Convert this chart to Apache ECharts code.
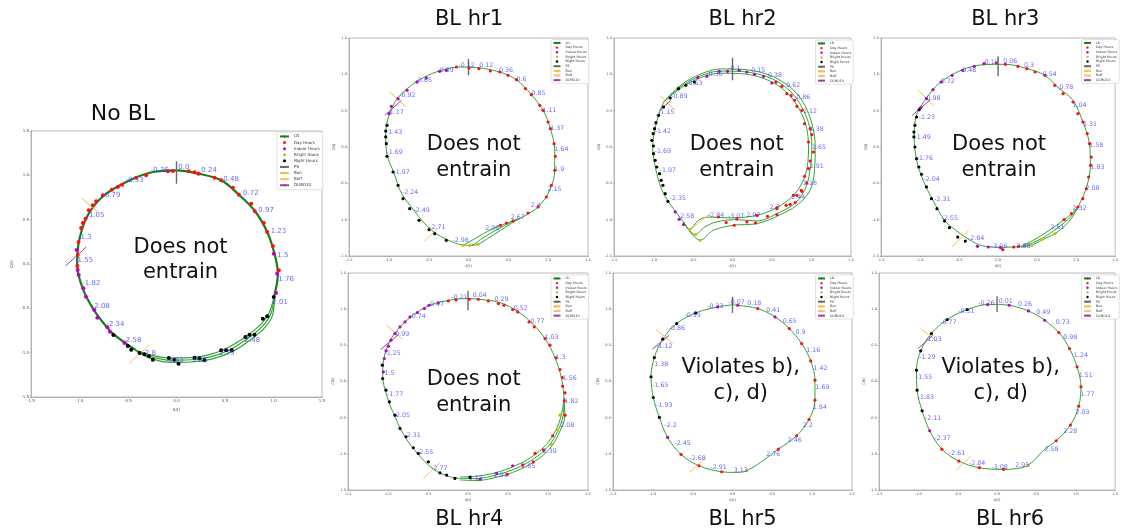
<!DOCTYPE html>
<html><head><meta charset="utf-8">
<script src="https://cdn.jsdelivr.net/npm/echarts@6/dist/echarts.min.js"></script>
<style>html,body{margin:0;padding:0;background:#fff}#c{width:1121px;height:529px}</style>
</head><body><div id="c"></div>
<script>
// ---------------- texts ----------------
const titleTexts = ['No BL','BL hr1','BL hr2','BL hr3','BL hr4','BL hr5','BL hr6'];
const verdictTexts = ['Does not\nentrain','Does not\nentrain','Does not\nentrain','Does not\nentrain','Does not\nentrain','Violates b),\nc), d)','Violates b),\nc), d)'];
const legendNames = ['LD','Day Hours','Indoor Hours','Bright Hours','Night Hours','PS','Bon','Boff','DLMO10'];
const axisTicks = [-1.5,-1.0,-0.5,0.0,0.5,1.0,1.5];

// ---------------- No BL ----------------
const noBL_ldMain = [[-0.42,-0.97],[-0.519,-0.898],[-0.65,-0.79],[-0.708,-0.726],[-0.856,-0.511],[-0.966,-0.278],[-1.024,-0.015],[-1.007,0.248],[-0.924,0.53],[-0.766,0.756],[-0.519,0.925],[-0.244,1.038],[0,1.056],[0.227,1.019],[0.46,0.944],[0.643,0.782],[0.808,0.598],[0.935,0.361],[1.01,0.117],[1.045,-0.109],[1.01,-0.35]];
const noBL_ldA = [[1.01,-0.35],[0.95,-0.56],[0.86,-0.69],[0.74,-0.8],[0.55,-0.93],[0.35,-1.02],[0.15,-1.055],[-0.05,-1.06],[-0.25,-1.03],[-0.42,-0.97]];
const noBL_ldB = [[1.01,-0.35],[0.97,-0.57],[0.88,-0.71],[0.76,-0.82],[0.57,-0.955],[0.36,-1.045],[0.15,-1.08],[-0.05,-1.085],[-0.25,-1.05],[-0.42,-0.975]];
const noBL_ldC = [[1.01,-0.35],[0.99,-0.58],[0.9,-0.73],[0.78,-0.84],[0.59,-0.98],[0.37,-1.07],[0.15,-1.105],[-0.05,-1.11],[-0.25,-1.07],[-0.42,-0.98]];
const noBL_day = [[-0.038,1.049],[0.127,1.045],[0.186,1.034],[0.227,1.019],[0.392,0.974],[0.46,0.944],[0.581,0.861],[0.643,0.782],[0.77,0.68],[0.808,0.594],[0.9,0.462],[0.935,0.361],[0.993,0.203],[1.055,-0.071],[-1.01,0.248],[-0.983,0.406],[-0.966,0.462],[-0.938,0.511],[-0.904,0.605],[-0.863,0.662],[-0.828,0.707],[-0.759,0.774],[-0.667,0.838],[-0.605,0.868],[-0.56,0.895],[-0.416,0.974],[-0.313,1.0],[-0.089,1.045],[-1.019,0.101],[-1.022,-0.019]];
const noBL_indoor = [[1.003,0.117],[1.038,-0.109],[1.027,-0.327],[-1.029,0.158],[-1.019,-0.068],[-1.008,-0.124],[-0.96,-0.274],[-0.933,-0.368],[-0.847,-0.519],[-0.816,-0.605],[-0.713,-0.714],[-0.686,-0.763],[-0.536,-0.891]];
const noBL_bright = [];
const noBL_night = [[-0.651,-0.8],[-0.502,-0.925],[-0.467,-0.966],[-0.381,-1.004],[-0.33,-1.019],[-0.285,-1.041],[-0.244,-1.079],[-0.079,-1.06],[-0.021,-1.079],[0.021,-1.124],[0.186,-1.056],[0.237,-1.064],[0.289,-1.086],[0.46,-0.974],[0.512,-0.974],[0.57,-0.974],[0.711,-0.823],[0.753,-0.797],[0.804,-0.797],[0.89,-0.617],[0.935,-0.59],[1.003,-0.372]];
const noBL_ps = [[0,0.906],[0,1.16]];
const noBL_bon = [[-0.976,0.741],[-0.818,0.594]];
const noBL_boff = [[-0.491,-1.124],[-0.285,-0.917]];
const noBL_dlmo = [[-1.144,-0.023],[-0.931,0.192]];
const noBL_labels = [[0.024,1.056,'0.0'],[0.261,1.026,'0.24'],[0.488,0.921,'0.48'],[0.691,0.763,'0.72'],[0.849,0.568,'0.97'],[0.976,0.331,'1.23'],[1.045,0.071,'1.5'],[1.055,-0.203,'1.76'],[0.993,-0.459,'2.01'],[0.708,-0.891,'2.48'],[0.443,-1.041,'2.75'],[0.158,-1.117,'3.03'],[-0.107,-1.117,'-3.03'],[-0.347,-1.041,'-2.8'],[-0.543,-0.891,'-2.58'],[-0.718,-0.711,'-2.34'],[-0.869,-0.504,'-2.08'],[-0.966,-0.252,'-1.82'],[-1.041,0.011,'-1.55'],[-1.01,0.274,'-1.3'],[-0.924,0.515,'-1.05'],[-0.759,0.744,'-0.79'],[-0.519,0.917,'-0.53'],[-0.261,1.026,'-0.26']];

// ---------------- BL hr1 ----------------
const hr1_ldMain = [[-0.069,-1.353],[-0.174,-1.32],[-0.35,-1.23],[-0.466,-1.14],[-0.58,-1.02],[-0.675,-0.885],[-0.843,-0.633],[-0.935,-0.358],[-1.023,-0.101],[-1.039,0.183],[-0.997,0.436],[-0.884,0.679],[-0.646,0.904],[-0.382,1.041],[-0.11,1.10],[0.1,1.093],[0.39,1.032],[0.6,0.927],[0.789,0.72],[0.936,0.505],[1.028,0.252],[1.082,-0.046],[1.082,-0.321],[1.019,-0.596],[0.873,-0.826],[0.65,-0.98]];
const hr1_ldA = [[-0.069,-1.353],[0.1,-1.25],[0.3,-1.125],[0.5,-1.04],[0.65,-0.98]];
const hr1_ldB = [[-0.069,-1.353],[0.015,-1.356],[0.17,-1.26],[0.35,-1.14],[0.52,-1.045],[0.65,-0.98]];
const hr1_ldC = [[0.015,-1.356],[0.119,-1.339],[0.24,-1.26],[0.4,-1.15],[0.54,-1.05],[0.65,-0.98]];
const hr1_day = [[-0.152,1.101],[0.007,1.087],[0.132,1.078],[0.274,1.046],[0.392,1.032],[0.496,0.986],[0.601,0.927],[0.714,0.803],[0.789,0.72],[0.894,0.573],[0.936,0.505],[0.998,0.344],[1.028,0.252],[1.074,0.046],[1.09,-0.128],[1.082,-0.321],[1.04,-0.528],[0.977,-0.688],[0.873,-0.826],[0.747,-0.908],[0.559,-1.018],[0.475,-1.046],[0.4,-1.078]];
const hr1_indoor = [[-0.278,1.055],[-0.361,1.041],[-0.529,0.95],[-0.646,0.894],[-0.771,0.78],[-0.884,0.665],[-0.968,0.56],[-0.997,0.459]];
const hr1_bright = [[-0.069,-1.353],[0.015,-1.353],[0.119,-1.339]];
const hr1_night = [[-1.023,0.298],[-1.039,0.22],[-1.039,0.138],[-1.031,0.046],[-1.023,-0.128],[-0.947,-0.344],[-0.884,-0.528],[-0.822,-0.711],[-0.738,-0.849],[-0.621,-1.009],[-0.495,-1.138],[-0.424,-1.193],[-0.278,-1.284]];
const hr1_ps = [[0,0.986],[0,1.216]];
const hr1_bon = [[-0.989,0.757],[-0.78,0.55]];
const hr1_boff = [[-0.558,-1.298],[-0.382,-1.115]];
const hr1_dlmo = [[-1.05,0.436],[-0.842,0.642]];
const hr1_labels = [[-0.119,1.092,'-0.12'],[0.141,1.087,'0.12'],[0.39,1.018,'0.36'],[0.61,0.894,'0.6'],[0.797,0.697,'0.85'],[0.936,0.472,'1.11'],[1.032,0.22,'1.37'],[1.086,-0.069,'1.64'],[1.082,-0.344,'1.9'],[0.998,-0.619,'2.15'],[0.789,-0.835,'2.4'],[0.538,-1.009,'2.67'],[0.216,-1.161,'2.96'],[-0.194,-1.317,'-2.98'],[-0.487,-1.138,'-2.71'],[-0.684,-0.908,'-2.49'],[-0.83,-0.656,'-2.24'],[-0.935,-0.381,'-1.97'],[-1.023,-0.115,'-1.69'],[-1.031,0.17,'-1.43'],[-1.01,0.436,'-1.17'],[-0.864,0.679,'-0.92'],[-0.655,0.881,'-0.65'],[-0.383,1.023,'-0.39']];

// ---------------- BL hr2 ----------------
const hr2_ldLeft = [[-0.87,0.62],[-0.936,0.436],[-0.99,0.2],[-1.01,0.0],[-0.99,-0.2],[-0.95,-0.4],[-0.89,-0.6],[-0.8,-0.77],[-0.7,-0.92],[-0.62,-1.03]];
const hr2_ldA = [[-0.62,-1.03],[-0.544,-1.132],[-0.42,-1.0],[-0.283,-0.965],[-0.03,-0.976],[0.309,-0.94],[0.562,-0.834],[0.772,-0.664],[0.9,-0.45],[0.955,-0.2],[0.962,0.0],[0.935,0.28],[0.86,0.49],[0.74,0.69],[0.57,0.85],[0.35,0.96],[0.1,1.01],[-0.15,1.015],[-0.4,0.955],[-0.65,0.815],[-0.87,0.62]];
const hr2_ldB = [[-0.62,-1.03],[-0.472,-1.205],[-0.35,-1.1],[-0.2,-1.03],[0.056,-1.0],[0.309,-1.018],[0.562,-0.917],[0.794,-0.77],[0.93,-0.55],[0.99,-0.25],[1.004,0.0],[0.975,0.28],[0.9,0.5],[0.78,0.71],[0.6,0.88],[0.37,0.99],[0.1,1.04],[-0.15,1.045],[-0.4,0.98],[-0.65,0.835],[-0.87,0.62]];
const hr2_ldC = [[-0.62,-1.03],[-0.409,-1.283],[-0.241,-1.146],[0.013,-1.077],[0.309,-1.054],[0.562,-0.953],[0.815,-0.802],[0.98,-0.6],[1.04,-0.3],[1.047,0.0],[1.015,0.28],[0.94,0.52],[0.82,0.73],[0.63,0.9],[0.4,1.015],[0.1,1.07],[-0.15,1.075],[-0.4,1.005],[-0.65,0.855],[-0.87,0.62]];
const hr2_day = [[-0.177,-0.963],[0.056,-0.99],[0.309,-0.94],[0.562,-0.834],[0.772,-0.664],[-0.08,-1.04],[0.182,-1.031],[0.443,-0.953],[0.68,-0.802],[0.87,-0.596],[0.022,-1.077],[0.291,-1.045],[0.562,-0.93],[0.794,-0.765],[0.549,0.894],[0.625,0.835],[0.688,0.734],[0.743,0.706],[0.785,0.642],[0.815,0.56],[0.878,0.505],[0.912,0.321],[0.983,0.252],[1.004,0.17],[0.962,0.069],[1.025,-0.069],[0.983,-0.193],[0.962,-0.298],[0.912,-0.404],[0.941,-0.495],[0.878,-0.61],[0.815,-0.665],[0.73,-0.789],[0.562,-0.849]];
const hr2_indoor = [[-0.168,1.041],[-0.063,1.041],[0.085,1.055],[0.182,1.032],[0.279,1.0],[0.393,0.972],[0.498,0.881],[-0.325,0.972],[-0.439,0.954],[-0.725,-0.894],[-0.675,-0.995],[-0.62,-1.068]];
const hr2_bright = [[-0.544,-1.132],[-0.472,-1.205],[-0.409,-1.283]];
const hr2_night = [[-0.481,0.894],[-0.591,0.849],[-0.684,0.803],[-0.789,0.674],[-0.873,0.55],[-0.936,0.436],[-0.97,0.335],[-0.987,0.252],[-1.004,0.183],[-1.021,0.092],[-1.0,0.014],[-1.0,-0.092],[-0.979,-0.183],[-0.958,-0.275],[-0.924,-0.367],[-0.903,-0.459],[-0.881,-0.528],[-0.852,-0.642],[-0.818,-0.748]];
const hr2_ps = [[0,0.917],[0,1.229]];
const hr2_bon = [[-0.915,0.702],[-0.725,0.505]];
const hr2_boff = [[-0.494,-1.1],[-0.273,-0.908]];
const hr2_dlmo = [[-0.93,0.5],[-0.78,0.64]];
const hr2_labels = [[-0.05,1.041,'-0.1'],[0.245,1.023,'0.15'],[0.456,0.95,'0.38'],[0.687,0.817,'0.62'],[0.814,0.651,'0.86'],[0.9,0.45,'1.12'],[0.983,0.206,'1.38'],[1.013,-0.046,'1.65'],[0.983,-0.298,'1.91'],[0.9,-0.53,'2.18'],[0.751,-0.734,'2.44'],[0.477,-0.87,'2.7'],[0.182,-0.972,'2.97'],[-0.05,-0.986,'-3.07'],[-0.304,-0.972,'-2.84'],[-0.683,-0.995,'-2.58'],[-0.789,-0.748,'-2.35'],[-0.915,-0.358,'-1.97'],[-0.978,-0.092,'-1.69'],[-0.978,0.183,'-1.42'],[-0.936,0.436,'-1.15'],[-0.768,0.656,'-0.89'],[-0.578,0.839,'-0.63'],[-0.325,0.972,'-0.36']];

// ---------------- BL hr3 ----------------
const hr3_ldMain = [[0.3,-1.37],[0.05,-1.38],[-0.2,-1.36],[-0.37,-1.275],[-0.55,-1.14],[-0.686,-1.009],[-0.834,-0.734],[-0.96,-0.459],[-1.045,-0.174],[-1.074,0.128],[-1.053,0.413],[-0.939,0.642],[-0.749,0.881],[-0.475,1.055],[-0.18,1.133],[0.094,1.138],[0.37,1.078],[0.6,0.986],[0.77,0.817],[0.96,0.642],[1.087,0.344],[1.17,0.046],[1.183,-0.252],[1.128,-0.573],[1.023,-0.826]];
const hr3_ldA = [[1.023,-0.826],[0.93,-0.93],[0.846,-1.0],[0.72,-1.1],[0.58,-1.2],[0.44,-1.29],[0.3,-1.36]];
const hr3_ldB = [[1.023,-0.826],[0.94,-0.95],[0.85,-1.04],[0.73,-1.14],[0.59,-1.24],[0.44,-1.32],[0.3,-1.37]];
const hr3_ldC = [[1.023,-0.826],[0.95,-0.97],[0.86,-1.08],[0.728,-1.193],[0.559,-1.28],[0.432,-1.35],[0.3,-1.375]];
const hr3_day = [[-0.024,1.156],[0.094,1.138],[0.255,1.11],[0.369,1.078],[0.474,1.032],[0.601,0.986],[0.727,0.849],[0.833,0.734],[0.96,0.619],[1.023,0.459],[1.087,0.344],[1.142,0.183],[1.172,0.046],[1.194,-0.138],[1.185,-0.252],[1.16,-0.413],[1.13,-0.573],[1.086,-0.711],[1.023,-0.826],[0.939,-0.917],[0.846,-1.0],[0.264,-1.367],[0.061,-1.413],[0.2,-1.376]];
const hr3_indoor = [[-0.18,1.147],[-0.306,1.11],[-0.454,1.055],[-0.589,0.986],[-0.728,0.894],[-0.834,0.789],[-0.918,0.665],[-0.99,0.541],[-0.264,-1.367],[-0.125,-1.376],[0.032,-1.385]];
const hr3_bright = [[0.432,-1.353],[0.559,-1.275],[0.728,-1.193]];
const hr3_night = [[-1.011,0.514],[-1.044,0.413],[-1.065,0.298],[-1.078,0.206],[-1.078,0.138],[-1.065,0.0],[-1.044,-0.161],[-1.015,-0.275],[-0.981,-0.376],[-0.918,-0.55],[-0.854,-0.711],[-0.783,-0.849],[-0.686,-1.018],[-0.623,-1.11],[-0.517,-1.239],[-0.42,-1.294]];
const hr3_ps = [[0,0.972],[0,1.248]];
const hr3_bon = [[-1.023,0.78],[-0.825,0.573]];
const hr3_boff = [[-0.589,-1.376],[-0.378,-1.147]];
const hr3_dlmo = [[-1.099,0.436],[-0.867,0.651]];
const hr3_labels = [[-0.193,1.124,'-0.19'],[0.073,1.147,'0.06'],[0.339,1.087,'0.3'],[0.58,0.963,'0.54'],[0.791,0.78,'0.78'],[0.96,0.541,'1.04'],[1.095,0.275,'1.31'],[1.179,-0.009,'1.58'],[1.192,-0.312,'1.83'],[1.128,-0.61,'2.08'],[0.96,-0.881,'2.32'],[0.677,-1.138,'2.61'],[0.242,-1.399,'2.88'],[-0.083,-1.399,'-3.06'],[-0.378,-1.298,'-2.84'],[-0.716,-1.023,'-2.55'],[-0.813,-0.757,'-2.31'],[-0.948,-0.482,'-2.04'],[-1.036,-0.193,'-1.76'],[-1.066,0.101,'-1.49'],[-1.011,0.376,'-1.23'],[-0.939,0.633,'-0.98'],[-0.758,0.862,'-0.72'],[-0.483,1.023,'-0.48']];

// ---------------- BL hr4 ----------------
const hr4_ldMain = [[-0.1,-1.34],[-0.25,-1.31],[-0.433,-1.211],[-0.633,-0.994],[-0.788,-0.764],[-0.913,-0.488],[-1.017,-0.189],[-1.067,0.087],[-1.037,0.387],[-0.933,0.64],[-0.725,0.884],[-0.475,1.054],[-0.183,1.133],[0.0,1.146],[0.13,1.137],[0.4,1.091],[0.63,0.962],[0.796,0.81],[0.962,0.594],[1.087,0.331],[1.17,0.041],[1.2,-0.22]];
const hr4_ldA = [[1.2,-0.22],[1.17,-0.45],[1.1,-0.67],[0.98,-0.87],[0.8,-1.04],[0.58,-1.17],[0.35,-1.26],[0.1,-1.31],[-0.1,-1.32]];
const hr4_ldB = [[1.2,-0.22],[1.19,-0.46],[1.12,-0.69],[1.0,-0.9],[0.82,-1.07],[0.6,-1.2],[0.36,-1.29],[0.1,-1.34],[-0.1,-1.34]];
const hr4_ldC = [[1.2,-0.22],[1.21,-0.47],[1.14,-0.71],[1.02,-0.93],[0.84,-1.1],[0.62,-1.23],[0.37,-1.32],[0.1,-1.37],[-0.1,-1.36]];
const hr4_day = [[-0.246,1.114],[-0.15,1.128],[0.017,1.137],[0.129,1.137],[0.254,1.114],[0.379,1.077],[0.45,1.054],[0.558,0.994],[0.621,0.962],[0.763,0.824],[0.829,0.755],[0.963,0.594],[1.025,0.502],[1.1,0.327],[1.15,0.166],[1.179,0.055],[1.183,-0.064],[1.213,-0.157],[1.204,-0.267],[1.213,-0.465],[1.058,-0.75],[0.942,-0.948],[0.838,-0.994],[0.817,-1.11],[0.683,-1.156],[0.492,-1.285]];
const hr4_indoor = [[-0.371,1.087],[-0.488,1.054],[-0.546,1.008],[-0.633,0.953],[-0.725,0.893],[-0.788,0.824],[-0.85,0.755],[-0.913,0.663],[-0.963,0.571],[-0.996,0.488],[-1.025,0.424],[-1.046,0.318],[-1.058,0.134],[0.558,-1.165],[0.358,-1.271],[0.15,-1.354]];
const hr4_bright = [[1.15,-0.465],[1.121,-0.672],[1.046,-0.87]];
const hr4_night = [[-1.071,0.226],[-1.067,0.041],[-1.025,-0.12],[-0.983,-0.281],[-0.913,-0.465],[-0.85,-0.649],[-0.775,-0.764],[-0.683,-0.916],[-0.621,-0.994],[-0.496,-1.11],[-0.35,-1.262],[-0.267,-1.294],[-0.163,-1.34],[0.025,-1.326]];
const hr4_ps = [[0,0.985],[0,1.252]];
const hr4_bon = [[-1.017,0.778],[-0.817,0.58]];
const hr4_boff = [[-0.558,-1.34],[-0.35,-1.123]];
const hr4_dlmo = [[-1.092,0.442],[-0.879,0.64]];
const hr4_labels = [[-0.204,1.133,'-0.21'],[0.067,1.16,'0.04'],[0.338,1.1,'0.29'],[0.579,0.976,'0.52'],[0.788,0.801,'0.77'],[0.963,0.571,'1.03'],[1.1,0.304,'1.3'],[1.192,0.009,'1.56'],[1.213,-0.304,'1.82'],[1.158,-0.635,'2.08'],[0.942,-1.004,'2.39'],[0.671,-1.202,'2.65'],[0.329,-1.326,'2.91'],[0.017,-1.377,'3.13'],[-0.454,-1.234,'-2.77'],[-0.633,-1.018,'-2.55'],[-0.788,-0.773,'-2.31'],[-0.921,-0.497,'-2.05'],[-1.008,-0.212,'-1.77'],[-1.067,0.074,'-1.5'],[-1.038,0.359,'-1.25'],[-0.933,0.617,'-0.99'],[-0.725,0.861,'-0.74'],[-0.496,1.031,'-0.47']];

// ---------------- BL hr5 ----------------
const hr5_ldMain = [[0,1.06],[0.065,1.054],[0.316,1.008],[0.534,0.893],[0.713,0.732],[0.868,0.525],[0.981,0.285],[1.035,0.018],[1.035,-0.258],[0.96,-0.525],[0.805,-0.75],[0.575,-0.935],[0.178,-1.234],[0.03,-1.257],[-0.136,-1.248],[-0.42,-1.165],[-0.646,-1.008],[-0.814,-0.773],[-0.918,-0.497],[-0.994,-0.221],[-1.023,0.064],[-0.981,0.331],[-0.876,0.585],[-0.701,0.801],[-0.462,0.948],[-0.186,1.031],[0,1.06]];
const hr5_day = [[0.316,1.008],[0.713,0.732],[0.868,0.525],[0.981,0.285],[1.035,0.018],[1.035,-0.258],[0.96,-0.525],[0.805,-0.75],[0.575,-0.935],[-0.136,-1.248],[-0.42,-1.165],[-0.646,-1.008]];
const hr5_indoor = [[-0.186,1.031],[0.065,1.054],[0.534,0.893],[-0.814,-0.773]];
const hr5_bright = [[0.178,-1.234]];
const hr5_night = [[-0.918,-0.497],[-0.994,-0.221],[-1.023,0.064],[-0.981,0.331],[-0.876,0.585],[-0.701,0.801],[-0.462,0.948]];
const hr5_ps = [[0,0.948],[0,1.169]];
const hr5_bon = [[-0.96,0.723],[-0.751,0.525]];
const hr5_boff = [[-0.542,-1.257],[-0.333,-1.054]];
const hr5_dlmo = [[-1.006,0.447],[-0.797,0.64]];
const hr5_labels = [[-0.312,1.004,'-0.33'],[-0.044,1.064,'-0.07'],[0.19,1.041,'0.18'],[0.429,0.953,'0.41'],[0.638,0.801,'0.65'],[0.797,0.64,'0.9'],[0.931,0.401,'1.16'],[1.023,0.147,'1.42'],[1.048,-0.12,'1.69'],[1.015,-0.396,'1.94'],[0.889,-0.635,'2.2'],[0.701,-0.847,'2.46'],[0.429,-1.04,'2.76'],[0.023,-1.257,'3.13'],[-0.27,-1.225,'-2.91'],[-0.533,-1.096,'-2.68'],[-0.722,-0.889,'-2.45'],[-0.847,-0.635,'-2.2'],[-0.952,-0.359,'-1.93'],[-1.002,-0.083,'-1.65'],[-1.006,0.203,'-1.38'],[-0.952,0.456,'-1.12'],[-0.793,0.695,'-0.86'],[-0.596,0.884,'-0.59']];

// ---------------- BL hr6 ----------------
const hr6_ldMain = [[0,1.065],[0.154,1.054],[0.398,0.976],[0.604,0.847],[0.785,0.677],[0.92,0.456],[1.016,0.203],[1.066,-0.074],[1.037,-0.341],[0.932,-0.603],[0.751,-0.82],[0.6,-0.94],[0.398,-1.156],[0.2,-1.21],[0.082,-1.215],[-0.225,-1.192],[-0.486,-1.1],[-0.701,-0.935],[-0.856,-0.681],[-0.952,-0.405],[-1.016,-0.12],[-1.024,0.157],[-0.97,0.424],[-0.835,0.663],[-0.633,0.856],[-0.38,0.994],[-0.12,1.064],[0,1.065]];
const hr6_day = [[0.785,0.677],[0.92,0.456],[1.016,0.203],[1.066,-0.074],[1.037,-0.341],[0.932,-0.603],[0.751,-0.82],[0.082,-1.215],[-0.225,-1.192],[-0.486,-1.1],[-0.701,-0.935]];
const hr6_indoor = [[-0.12,1.064],[0.154,1.054],[0.398,0.976],[0.604,0.847],[-0.856,-0.681]];
const hr6_bright = [[0.398,-1.156]];
const hr6_night = [[-0.952,-0.405],[-1.016,-0.12],[-1.024,0.157],[-0.97,0.424],[-0.835,0.663],[-0.633,0.856],[-0.38,0.994]];
const hr6_ps = [[0,0.962],[0,1.179]];
const hr6_bon = [[-0.97,0.732],[-0.759,0.548]];
const hr6_boff = [[-0.528,-1.234],[-0.33,-1.027]];
const hr6_dlmo = [[-1.003,0.456],[-0.814,0.64]];
const hr6_labels = [[-0.234,1.045,'-0.26'],[0.027,1.077,'0.01'],[0.271,1.031,'0.26'],[0.503,0.925,'0.49'],[0.751,0.778,'0.73'],[0.848,0.571,'0.98'],[0.982,0.331,'1.24'],[1.045,0.055,'1.51'],[1.066,-0.212,'1.77'],[1.003,-0.465,'2.03'],[0.848,-0.718,'2.28'],[0.608,-0.971,'2.58'],[0.238,-1.192,'2.95'],[-0.065,-1.225,'-3.08'],[-0.351,-1.165,'-2.84'],[-0.604,-1.031,'-2.61'],[-0.793,-0.824,'-2.37'],[-0.911,-0.548,'-2.11'],[-1.003,-0.258,'-1.83'],[-1.024,0.018,'-1.55'],[-0.982,0.295,'-1.29'],[-0.906,0.548,'-1.03'],[-0.717,0.778,'-0.77'],[-0.486,0.939,'-0.51']];

// ---------------- layout (pixels) ----------------
const FONT = 'DejaVu Sans';
const panels = [
  {big:true, grid:{left:31,top:131,width:291,height:266}, legend:{left:277,top:132}, title:[123,114], verdict:[180.5,260],
   ld:[noBL_ldMain,noBL_ldA,noBL_ldB,noBL_ldC], day:noBL_day, indoor:noBL_indoor, bright:noBL_bright, night:noBL_night, ps:noBL_ps, bon:noBL_bon, boff:noBL_boff, dlmo:noBL_dlmo, labels:noBL_labels},
  {grid:{left:349,top:38,width:239,height:218}, legend:{left:551,top:39.5}, title:[469,19.7], verdict:[473.7,157.4],
   ld:[hr1_ldMain,hr1_ldA,hr1_ldB,hr1_ldC], day:hr1_day, indoor:hr1_indoor, bright:hr1_bright, night:hr1_night, ps:hr1_ps, bon:hr1_bon, boff:hr1_boff, dlmo:hr1_dlmo, labels:hr1_labels},
  {grid:{left:614,top:38,width:237,height:218}, legend:{left:815.5,top:40}, title:[742.5,19.7], verdict:[736.7,157.4],
   ld:[hr2_ldLeft,hr2_ldA,hr2_ldB,hr2_ldC], day:hr2_day, indoor:hr2_indoor, bright:hr2_bright, night:hr2_night, ps:hr2_ps, bon:hr2_bon, boff:hr2_boff, dlmo:hr2_dlmo, labels:hr2_labels},
  {grid:{left:881,top:38,width:237,height:218}, legend:{left:1081.5,top:39.5}, title:[1005.2,19.7], verdict:[999,157.4],
   ld:[hr3_ldMain,hr3_ldA,hr3_ldB,hr3_ldC], day:hr3_day, indoor:hr3_indoor, bright:hr3_bright, night:hr3_night, ps:hr3_ps, bon:hr3_bon, boff:hr3_boff, dlmo:hr3_dlmo, labels:hr3_labels},
  {grid:{left:348,top:273,width:240,height:217}, legend:{left:551,top:275}, title:[469.2,519.4], verdict:[473.7,392.4],
   ld:[hr4_ldMain,hr4_ldA,hr4_ldB,hr4_ldC], day:hr4_day, indoor:hr4_indoor, bright:hr4_bright, night:hr4_night, ps:hr4_ps, bon:hr4_bon, boff:hr4_boff, dlmo:hr4_dlmo, labels:hr4_labels},
  {grid:{left:613,top:273,width:239,height:217}, legend:{left:815.5,top:275}, title:[742.5,519.4], verdict:[740.7,380.7],
   ld:[hr5_ldMain], day:hr5_day, indoor:hr5_indoor, bright:hr5_bright, night:hr5_night, ps:hr5_ps, bon:hr5_bon, boff:hr5_boff, dlmo:hr5_dlmo, labels:hr5_labels},
  {grid:{left:879,top:273,width:238,height:217}, legend:{left:1081.5,top:275}, title:[1010,519.4], verdict:[1000.7,380.7],
   ld:[hr6_ldMain], day:hr6_day, indoor:hr6_indoor, bright:hr6_bright, night:hr6_night, ps:hr6_ps, bon:hr6_bon, boff:hr6_boff, dlmo:hr6_dlmo, labels:hr6_labels}
];

const COLORS = {ld:'#36a336', ldDark:'#1b7d1b', day:'#ff1010', indoor:'#c000c0', bright:'#c4c400', night:'#000000', ps:'#6a6a6a', bon:'#ffb84a', boff:'#ffc060', dlmo:'#a040a8', label:'#3f3fff', frame:'#a8a8a8'};

const grids=[], xAxes=[], yAxes=[], series=[], legends=[], graphics=[];

function lineS(name, data, i, color, width, smooth, z){
  return {type:'line', name, data, xAxisIndex:i, yAxisIndex:i, symbol:'none', smooth:smooth||false, lineStyle:{color, width}, itemStyle:{color}, z:z||2, silent:true, animation:false};
}
function dotS(name, data, i, color, size){
  return {type:'scatter', name, data, xAxisIndex:i, yAxisIndex:i, symbol:'circle', symbolSize:size, itemStyle:{color, opacity:1}, z:4, silent:true, animation:false};
}

panels.forEach((p, i) => {
  const big = !!p.big;
  const fsTick = big ? 4 : 3.6;
  grids.push(Object.assign({show:true, borderColor:COLORS.frame, borderWidth:0.8, backgroundColor:'#fff'}, p.grid));
  const axisCommon = {gridIndex:i, type:'value', min:axisTicks[0], max:axisTicks[axisTicks.length-1], interval:0.5,
    nameLocation:'middle', nameTextStyle:{fontSize:fsTick, color:'#444', fontFamily:FONT},
    axisLine:{show:true, onZero:false, lineStyle:{color:COLORS.frame, width:0.8}},
    axisTick:{show:true, length:1.5, lineStyle:{color:'#999', width:0.5}},
    axisLabel:{fontSize:fsTick, color:'#555', margin:2, fontFamily:FONT, formatter:v=>v.toFixed(1)},
    splitLine:{show:false}};
  xAxes.push(Object.assign({}, axisCommon, {name:'A(t)', nameGap: big?7:8, position:'bottom'}));
  yAxes.push(Object.assign({}, axisCommon, {name:'C(t)', nameGap: big?17:13, position:'left'}));

  p.ld.forEach((s, k) => {
    const dark = big && k === 0;
    series.push(lineS('LD', s, i, dark ? COLORS.ldDark : COLORS.ld, dark ? 2.2 : (big ? 1.2 : 1), 0.35, 2));
  });
  series.push(lineS('PS', p.ps, i, COLORS.ps, 1.4, false, 3));
  series.push(lineS('Bon', p.bon, i, COLORS.bon, 1, false, 3));
  series.push(lineS('Boff', p.boff, i, COLORS.boff, 1, false, 3));
  series.push(lineS('DLMO10', p.dlmo, i, COLORS.dlmo, 1, false, 3));
  const ds = big ? 4 : 3.2;
  series.push(dotS('Day Hours', p.day, i, COLORS.day, ds));
  series.push(dotS('Indoor Hours', p.indoor, i, COLORS.indoor, ds));
  series.push(dotS('Bright Hours', p.bright, i, COLORS.bright, ds));
  series.push(dotS('Night Hours', p.night, i, COLORS.night, ds));
  series.push({type:'scatter', name:'hourLabels', data:p.labels.map(d => ({value:[d[0], d[1]], name:d[2]})),
    xAxisIndex:i, yAxisIndex:i, symbolSize:1, itemStyle:{color:'rgba(0,0,0,0)'},
    label:{show:true, formatter:'{b}', position:[0,1], align:'left', verticalAlign:'bottom', fontSize: big?7:6.3, fontFamily:FONT, color:COLORS.label},
    labelLayout:{hideOverlap:false},
    z:6, silent:true, animation:false});

  legends.push({orient:'vertical', left:p.legend.left, top:p.legend.top, data:legendNames, selectedMode:false,
    itemWidth: big?9:7, itemHeight: big?3:2.4, itemGap: big?1.2:0.75, itemTextGap:2,
    padding: big?[2,3,2,2]:[1.5,2,1.5,1.5],
    textStyle:{fontSize: big?4:3.3, fontFamily:FONT, color:'#333', lineHeight: big?4.9:3.9},
    backgroundColor:'#fff', borderColor:'#cfcfcf', borderWidth:0.6, borderRadius:1.5, z:10});

  graphics.push({type:'text', x:p.title[0], y:p.title[1], silent:true, z:20,
    style:{text:titleTexts[i], fontSize: big?22:21, fontFamily:FONT, fill:'#111', align:'center', verticalAlign:'middle'}});
  graphics.push({type:'text', x:p.verdict[0], y:p.verdict[1], silent:true, z:20,
    style:{text:verdictTexts[i], fontSize:21, fontFamily:FONT, fill:'#111', align:'center', verticalAlign:'middle', lineHeight:25.5}});
});

const chart = echarts.init(document.getElementById('c'), null, {renderer:'canvas'});
chart.setOption({
  backgroundColor:'#ffffff',
  animation:false,
  grid:grids, xAxis:xAxes, yAxis:yAxes, series, legend:legends, graphic:graphics
});
</script></body></html>
